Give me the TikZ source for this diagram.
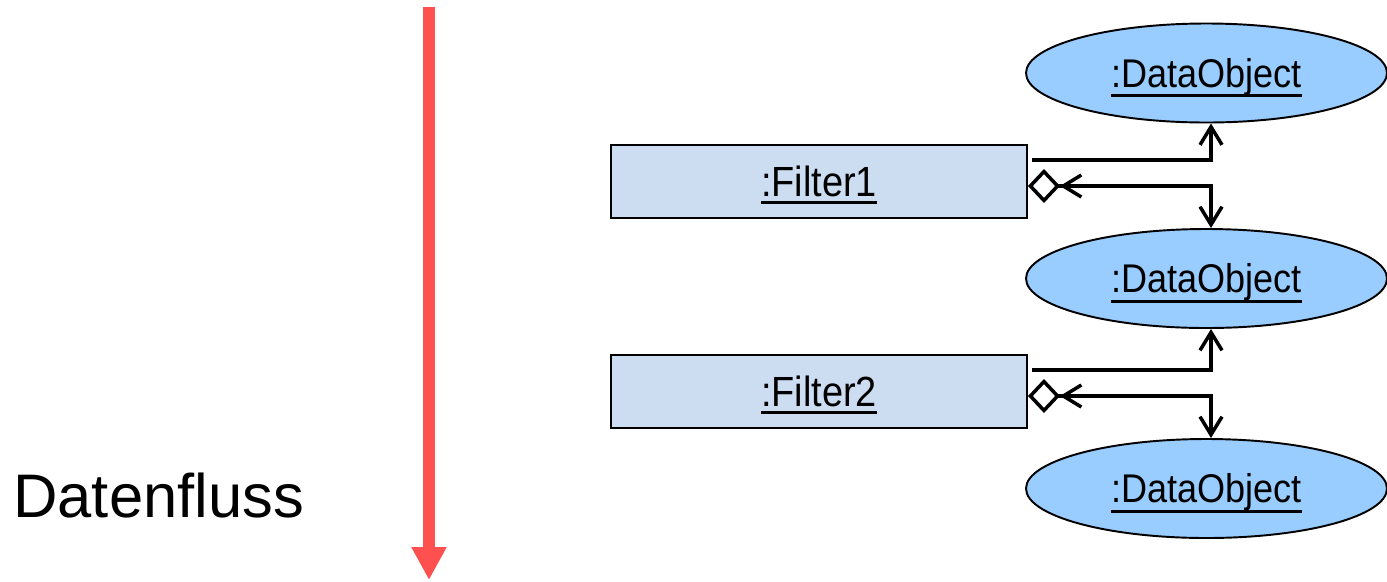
\documentclass[tikz,border=0pt]{standalone}
\usepackage{fontspec}
\setmainfont{Liberation Sans}
\newfontfamily\schmal{Liberation Sans}[FakeStretch=0.9]
\usepackage{tikz}
\usetikzlibrary{arrows.meta,calc,shapes.geometric}
\usepackage{xcolor}

\definecolor{filterblau}{RGB}{204,221,242}
\definecolor{objektblau}{RGB}{153,204,255}
\definecolor{flussrot}{RGB}{255,80,80}

% unterstrichener Objektname (UML)
\newcommand{\objname}[2][4.3pt]{\setbox0\hbox{#2}\rlap{\rule[-#1]{\wd0}{1.8pt}}\box0}

\tikzset{
  pfeil/.tip={Straight Barb[length=0.36cm,width=0.44cm]},
  raute/.tip={Diamond[open,length=0.64cm,width=0.68cm]},
  filter/.style={draw,line width=1.1pt,fill=filterblau,minimum width=8.32cm,minimum height=1.46cm,
    inner sep=0pt,text height=0.6cm,text depth=0pt,font=\schmal\fontsize{24}{28}\selectfont},
  dataobj/.style={ellipse,draw,line width=1.1pt,fill=objektblau,minimum width=7.22cm,minimum height=1.98cm,
    inner sep=0pt,text height=0.575cm,text depth=0pt,font=\schmal\fontsize{22.8}{26}\selectfont},
  verb/.style={line width=2pt}
}

\begin{document}
\begin{tikzpicture}
\useasboundingbox (0,0) rectangle (27.74,-11.62);
% Datenfluss von oben nach unten
\coordinate (flussoben) at (8.58,-0.14);
\coordinate (flussunten) at (8.58,-11.6);
\draw[flussrot,line width=0.24cm,-{Triangle[length=0.66cm,width=0.66cm]}] (flussoben) -- (flussunten);
\node[anchor=base west,inner sep=0pt,font=\fontsize{35}{40}\selectfont] (fluss) at (0.26,-10.34) {Datenfluss};
% Filter
\node[filter] (f1) at (16.38,-3.63) {\objname{:Filter1}};
\node[filter] (f2) at (16.38,-7.83) {\objname{:Filter2}};
% Datenobjekte
\node[dataobj] (d1) at (24.13,-1.46) {\objname[5.7pt]{:DataObject}};
\node[dataobj] (d2) at (24.13,-5.57) {\objname[5.7pt]{:DataObject}};
\node[dataobj] (d3) at (24.13,-9.77) {\objname[5.7pt]{:DataObject}};
% Filter1: schreibt d1, liest d2
\draw[verb,-pfeil] ($(f1.east)+(0.08,0.43)$) -| ($(d1.south)+(0.09,0)$);
\draw[verb,{raute[]pfeil[]}-pfeil] ($(f1.east)+(0,-0.09)$) -| ($(d2.north)+(0.09,0)$);
% Filter2: schreibt d2, liest d3
\draw[verb,-pfeil] ($(f2.east)+(0.08,0.43)$) -| ($(d2.south)+(0.09,0)$);
\draw[verb,{raute[]pfeil[]}-pfeil] ($(f2.east)+(0,-0.09)$) -| ($(d3.north)+(0.09,0)$);
\end{tikzpicture}
\end{document}
